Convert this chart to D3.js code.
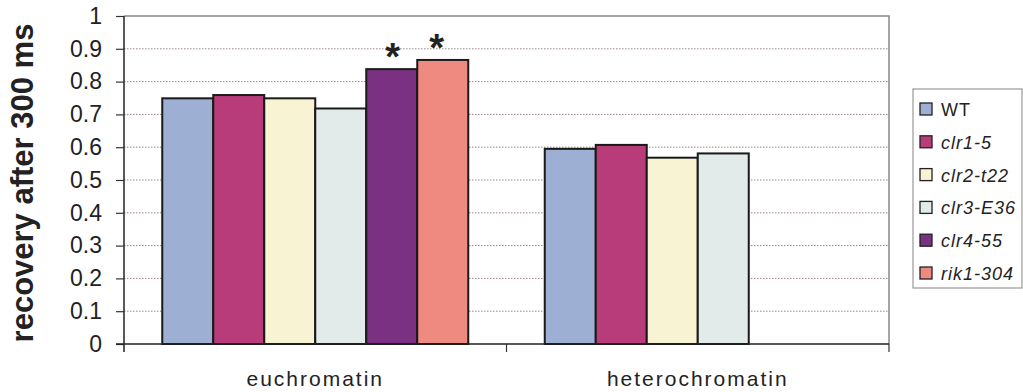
<!DOCTYPE html>
<html><head><meta charset="utf-8">
<script src="https://cdn.jsdelivr.net/npm/d3@7"></script>
<style>body{margin:0;background:#fff;}svg{display:block;font-family:"Liberation Sans",Arial,sans-serif;}</style>
</head><body><svg id="c" width="1023" height="392"></svg>
<script>
const categories = ["euchromatin", "heterochromatin"];
const strains = ["WT", "clr1-5", "clr2-t22", "clr3-E36", "clr4-55", "rik1-304"];
const euchromatin = [0.749, 0.759, 0.749, 0.718, 0.838, 0.866];
const heterochromatin = [0.595, 0.607, 0.568, 0.581, null, null];
const colors = ["#9dafd3", "#b83c79", "#f7f3d3", "#e2eaea", "#7b3182", "#ef8a80"];
const significant = [["euchromatin", "clr4-55"], ["euchromatin", "rik1-304"]];
const yTicks = [0,0.1,0.2,0.3,0.4,0.5,0.6,0.7,0.8,0.9,1];
const yTickLabels = ["0","0.1","0.2","0.3","0.4","0.5","0.6","0.7","0.8","0.9","1"];
const yTitle = "recovery after 300 ms";

const series = {euchromatin, heterochromatin};
const svg = d3.select("#c");
const L = 124, R = 889, T = 16, B = 344;
const x0 = d3.scaleBand().domain(categories).range([L, R]).paddingInner(0).paddingOuter(0);
const x1 = d3.scaleBand().domain(strains).range([0, x0.bandwidth()*0.8]);
const y = d3.scaleLinear().domain([0, 1]).range([B, T]);
const color = d3.scaleOrdinal().domain(strains).range(colors);

// grid
svg.append("g").selectAll("line").data(yTicks.filter(d => d > 0 && d < 1)).join("line")
  .attr("x1", L).attr("x2", R).attr("y1", d => y(d)).attr("y2", d => y(d))
  .attr("stroke", "#9a8585").attr("stroke-width", 1).attr("stroke-dasharray", "1.5,1.5");
// plot frame top/right
svg.append("path").attr("d", `M${L},${T}H${R}V${B}`).attr("fill","none").attr("stroke","#888").attr("stroke-width",1.5);

// bars
const gOff = x0.bandwidth()*0.1;
categories.forEach(cat => {
  const g = svg.append("g").attr("transform", `translate(${x0(cat)+gOff},0)`);
  const data = strains.map((s, i) => ({s, v: series[cat][i]})).filter(d => d.v != null);
  g.selectAll("rect").data(data).join("rect")
    .attr("x", d => x1(d.s)).attr("width", x1.bandwidth())
    .attr("y", d => y(d.v)).attr("height", d => y(0) - y(d.v))
    .attr("fill", d => color(d.s)).attr("stroke", "#1a1a1a").attr("stroke-width", 2);
});

// asterisks
svg.append("g").selectAll("text").data(significant).join("text")
  .attr("x", (d, i) => x0(d[0]) + gOff + x1(d[1]) + x1.bandwidth()/2 + (i === 0 ? 1 : -6))
  .attr("y", d => y(series[d[0]][strains.indexOf(d[1])]) + 1)
  .attr("text-anchor", "middle").attr("font-size", 38).attr("font-weight", "bold").attr("fill", "#222")
  .text("*");

// y axis
const yAxis = d3.axisLeft(y).tickValues(yTicks).tickFormat((d, i) => yTickLabels[i]).tickSize(8).tickSizeOuter(0);
const ya = svg.append("g").attr("transform", `translate(${L},0)`).call(yAxis);
ya.select(".domain").attr("stroke", "#222").attr("stroke-width", 1.5).attr("d", `M0,${T}V${B+8}`);
ya.selectAll(".tick line").attr("stroke", "#333").attr("stroke-width", 1.2);
ya.selectAll(".tick text").attr("font-size", 23).attr("fill", "#222").attr("x", -22)
  .attr("font-family", "Liberation Sans, Arial, sans-serif");

// x axis
const xAxis = d3.axisBottom(x0).tickValues([]).tickSizeOuter(0);
const xa = svg.append("g").attr("transform", `translate(0,${B})`).call(xAxis);
xa.select(".domain").attr("stroke", "#222").attr("stroke-width", 1.5).attr("d", `M${L-8},0H${R}`);
svg.append("g").selectAll("line").data([x0(categories[1]), R]).join("line")
  .attr("x1", d => d).attr("x2", d => d).attr("y1", B).attr("y2", B + 8)
  .attr("stroke", "#333").attr("stroke-width", 1.2);
svg.append("g").selectAll("text").data(categories).join("text")
  .attr("x", d => x0(d) + x0.bandwidth()/2).attr("y", 386)
  .attr("text-anchor", "middle").attr("font-size", 21).attr("letter-spacing", 2).attr("fill", "#222").text(d => d);

// y title
svg.append("text").attr("transform", `translate(33,${(T+B)/2 + 3}) rotate(-90)`)
  .attr("text-anchor", "middle").attr("font-size", 31).attr("font-weight", "bold").attr("fill", "#222")
  .text(yTitle);

// legend
const lg = svg.append("g");
lg.append("rect").attr("x", 913).attr("y", 89).attr("width", 109).attr("height", 199)
  .attr("fill", "#fff").attr("stroke", "#999").attr("stroke-width", 1.2);
const items = lg.selectAll("g.it").data(strains).join("g").attr("class", "it")
  .attr("transform", (d, i) => `translate(920,${109 + i*32.8})`);
items.append("rect").attr("x", 0).attr("y", -6).attr("width", 12).attr("height", 12)
  .attr("fill", d => color(d)).attr("stroke", "#222").attr("stroke-width", 1.3);
items.append("text").attr("x", 21).attr("y", 7).attr("font-size", 18).attr("letter-spacing", 1).attr("fill", "#222")
  .attr("font-style", (d, i) => i === 0 ? "normal" : "italic").text(d => d);
</script></body></html>
